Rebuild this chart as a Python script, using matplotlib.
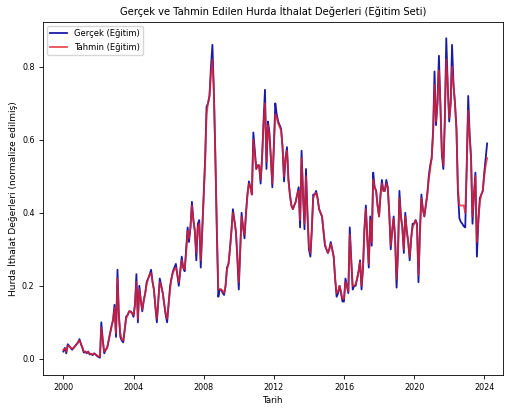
import matplotlib
matplotlib.use("Agg")
import matplotlib.pyplot as plt
import matplotlib.dates as mdates
import pandas as pd
import numpy as np

start_month = "2000-01-01"

actual = [
    # 2000
    .02, .03, .015, .04, .035, .03, .025, .03, .035, .04, .045, .054,
    # 2001
    .04, .03, .017, .02, .015, .02, .012, .014, .01, .015, .012, .008,
    # 2002
    .005, .003, .10, .05, .015, .025, .03, .05, .07, .09, .107, .148,
    # 2003
    .06, .244, .12, .06, .05, .045, .08, .116, .12, .13, .13, .125,
    # 2004
    .115, .15, .232, .10, .20, .16, .13, .16, .18, .21, .22, .23,
    # 2005
    .244, .21, .19, .14, .10, .16, .22, .20, .18, .15, .12, .10,
    # 2006
    .15, .20, .22, .24, .25, .26, .23, .20, .24, .28, .25, .24,
    # 2007
    .30, .36, .32, .36, .43, .38, .35, .27, .37, .38, .25, .35,
    # 2008
    .45, .55, .69, .70, .72, .80, .86, .73, .55, .35, .17, .19,
    # 2009
    .19, .18, .175, .20, .25, .26, .30, .35, .41, .38, .35, .28,
    # 2010
    .19, .30, .40, .36, .33, .40, .45, .486, .47, .45, .62, .57,
    # 2011
    .52, .53, .53, .48, .55, .65, .737, .52, .65, .62, .55, .47,
    # 2012
    .58, .70, .67, .65, .64, .63, .58, .486, .55, .58, .49, .45,
    # 2013
    .42, .41, .42, .43, .45, .47, .36, .57, .45, .355, .52, .40,
    # 2014
    .30, .28, .35, .45, .45, .46, .44, .41, .40, .39, .35, .31,
    # 2015
    .30, .29, .30, .32, .30, .28, .22, .17, .18, .20, .18, .157,
    # 2016
    .157, .22, .20, .18, .36, .27, .19, .20, .20, .22, .24, .27,
    # 2017
    .19, .25, .353, .42, .33, .25, .39, .31, .51, .47, .46, .42,
    # 2018
    .39, .45, .49, .46, .46, .49, .47, .40, .30, .35, .39, .33,
    # 2019
    .195, .30, .46, .39, .36, .29, .40, .35, .32, .27, .33, .37,
    # 2020
    .37, .38, .37, .21, .35, .45, .41, .39, .42, .45, .50, .53,
    # 2021
    .55, .63, .787, .64, .70, .83, .70, .56, .52, .65, .878, .75,
    # 2022
    .65, .70, .86, .75, .70, .63, .46, .385, .375, .37, .363, .36,
    # 2023
    .53, .72, .62, .55, .37, .45, .51, .28, .38, .44, .45, .46,
    # 2024
    .51, .55, .59,
]

predicted = [
    # 2000
    .025, .028, .02, .035, .035, .03, .028, .03, .034, .04, .045, .05,
    # 2001
    .042, .03, .02, .02, .017, .019, .014, .014, .012, .015, .012, .01,
    # 2002
    .006, .006, .085, .05, .02, .025, .03, .05, .07, .09, .105, .14,
    # 2003
    .07, .22, .12, .07, .055, .05, .08, .11, .12, .13, .13, .125,
    # 2004
    .12, .15, .21, .11, .19, .16, .135, .16, .18, .205, .22, .23,
    # 2005
    .235, .21, .19, .145, .11, .16, .21, .20, .18, .15, .125, .11,
    # 2006
    .15, .19, .22, .235, .245, .25, .23, .21, .24, .27, .25, .245,
    # 2007
    .29, .35, .33, .36, .42, .38, .35, .29, .36, .37, .27, .35,
    # 2008
    .44, .54, .67, .70, .72, .78, .82, .73, .55, .36, .19, .19,
    # 2009
    .19, .185, .18, .20, .245, .26, .30, .35, .40, .38, .35, .29,
    # 2010
    .21, .30, .39, .36, .34, .40, .45, .48, .47, .45, .60, .56,
    # 2011
    .52, .53, .53, .49, .55, .64, .70, .54, .64, .61, .55, .48,
    # 2012
    .58, .67, .66, .645, .635, .625, .58, .50, .55, .57, .49, .45,
    # 2013
    .42, .41, .42, .43, .45, .46, .38, .55, .45, .37, .50, .40,
    # 2014
    .31, .29, .35, .44, .45, .455, .44, .41, .40, .39, .35, .315,
    # 2015
    .30, .29, .30, .315, .30, .28, .22, .18, .185, .20, .185, .165,
    # 2016
    .165, .21, .20, .185, .34, .27, .20, .20, .205, .22, .24, .265,
    # 2017
    .20, .25, .35, .41, .33, .26, .38, .32, .49, .47, .46, .42,
    # 2018
    .39, .45, .48, .46, .46, .48, .47, .40, .31, .35, .385, .33,
    # 2019
    .22, .30, .44, .39, .36, .30, .39, .35, .32, .28, .33, .36,
    # 2020
    .37, .38, .365, .23, .34, .44, .41, .39, .42, .45, .49, .52,
    # 2021
    .55, .62, .75, .65, .70, .79, .70, .57, .53, .65, .82, .75,
    # 2022
    .66, .70, .80, .75, .70, .63, .47, .42, .42, .42, .42, .40,
    # 2023
    .52, .68, .61, .55, .39, .45, .50, .32, .38, .43, .45, .46,
    # 2024
    .50, .53, .55,
]

title = "Gerçek ve Tahmin Edilen Hurda İthalat Değerleri (Eğitim Seti)"
xlabel = "Tarih"
ylabel = "Hurda İthalat Değerleri (normalize edilmiş)"
label_actual = "Gerçek (Eğitim)"
label_pred = "Tahmin (Eğitim)"

dates = pd.date_range(start_month, periods=len(actual), freq="MS")

plt.rcParams['font.family'] = ['DejaVu Sans']

fig = plt.figure(figsize=(5.05, 4.12), dpi=100)
ax = fig.add_axes([0.085, 0.09, 0.911, 0.857])

ax.plot(dates, actual, color="#1a1aa8", lw=1.3, label=label_actual)
ax.plot(dates, predicted, color="#e8202a", lw=1.3, alpha=0.8, label=label_pred)

ax.set_xlim(pd.Timestamp("1998-11-01"), pd.Timestamp("2025-01-25"))
ax.set_ylim(-0.044, 0.923)
ax.xaxis.set_major_locator(mdates.YearLocator(4))
ax.xaxis.set_major_formatter(mdates.DateFormatter("%Y"))
ax.set_yticks([0.0, 0.2, 0.4, 0.6, 0.8])
ax.tick_params(labelsize=5.8, length=3, width=0.6, pad=3)
for s in ax.spines.values():
    s.set_linewidth(0.6)

ax.set_title(title, fontsize=7.2, pad=5)
ax.set_xlabel(xlabel, fontsize=6.2, labelpad=3)
ax.set_ylabel(ylabel, fontsize=6.5, labelpad=3)
ax.legend(loc="upper left", fontsize=6, frameon=True, handlelength=2,
          borderpad=0.4, labelspacing=0.5)

fig.savefig("out.png", dpi=100)
